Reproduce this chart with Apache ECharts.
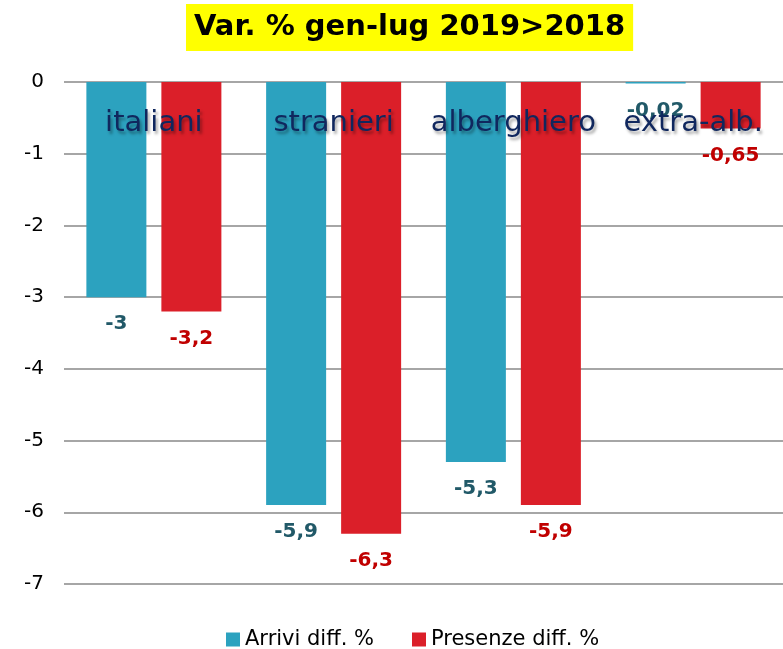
<!DOCTYPE html>
<html>
<head>
<meta charset="utf-8">
<script src="https://cdn.jsdelivr.net/npm/echarts@6/dist/echarts.min.js"></script>
<style>
  html, body { margin: 0; padding: 0; background: #fff; }
  #chart { width: 783px; height: 649px; }
</style>
</head>
<body>
<div id="chart"></div>
<script>
// dati
const categories = ['italiani', 'stranieri', 'alberghiero', 'extra-alb.'];
const arrivi = [-3, -5.9, -5.3, -0.02];
const presenze = [-3.2, -6.3, -5.9, -0.65];
const seriesNames = ['Arrivi diff. %', 'Presenze diff. %'];
const titleText = 'Var. % gen-lug 2019>2018';

const fontFam = '"DejaVu Sans", sans-serif';

const myChart = echarts.init(document.getElementById('chart'));

// virgola come separatore decimale
const fmt = p => String(p.value).replace('.', ',');

const options = {
    animation: false,
    title: {
        text: titleText,
        left: 186,
        top: 4,
        padding: [9, 8, 9, 8],
        backgroundColor: '#ffff00',
        textStyle: {
            fontFamily: fontFam,
            fontWeight: 'bold',
            fontSize: 29,
            color: '#000'
        }
    },
    legend: {
        data: seriesNames,
        left: 221,
        top: 624,
        itemWidth: 14,
        itemHeight: 14,
        itemGap: 38,
        icon: 'rect',
        textStyle: {
            fontFamily: fontFam,
            fontSize: 21,
            color: '#000'
        }
    },
    grid: {
        left: 64,
        right: 0,
        top: 82,
        bottom: 65
    },
    xAxis: {
        type: 'category',
        data: categories,
        position: 'top',
        z: 10,
        axisLine: { show: false },
        axisTick: { show: false },
        axisLabel: {
            interval: 0,
            inside: true,
            margin: 27,
            fontFamily: fontFam,
            fontSize: 29,
            color: '#10275e',
            textShadowColor: 'rgba(0,0,0,0.35)',
            textShadowBlur: 3,
            textShadowOffsetX: 2,
            textShadowOffsetY: 3
        }
    },
    yAxis: {
        type: 'value',
        min: -7,
        max: 0,
        interval: 1,
        axisLine: { show: false },
        axisTick: { show: false },
        axisLabel: {
            margin: 20,
            fontFamily: fontFam,
            fontSize: 20,
            color: '#000'
        },
        splitLine: {
            lineStyle: { color: '#a6a6a6', width: 2 }
        }
    },
    series: [
        {
            name: seriesNames[0],
            type: 'bar',
            data: arrivi,
            barWidth: 60,
            barGap: '25%',
            itemStyle: { color: '#2ca2bf' },
            label: {
                show: true,
                position: 'bottom',
                distance: 17,
                formatter: fmt,
                fontFamily: fontFam,
                fontWeight: 'bold',
                fontSize: 20,
                color: '#215968'
            }
        },
        {
            name: seriesNames[1],
            type: 'bar',
            data: presenze,
            barWidth: 60,
            itemStyle: { color: '#db1f29' },
            label: {
                show: true,
                position: 'bottom',
                distance: 17,
                formatter: fmt,
                fontFamily: fontFam,
                fontWeight: 'bold',
                fontSize: 20,
                color: '#c00000'
            }
        }
    ]
};

myChart.setOption(options);
</script>
</body>
</html>
